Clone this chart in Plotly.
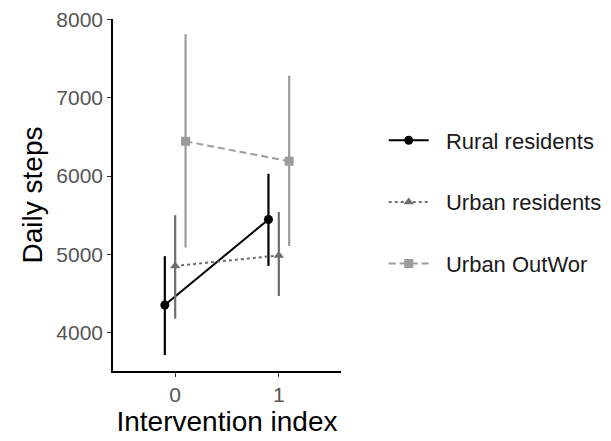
import plotly.graph_objects as go

x_index = [0, 1]
dodge = [-0.1, 0.0, 0.1]
series_names = ["Rural residents", "Urban residents", "Urban OutWor"]
means = [[4350, 5445], [4850, 4985], [6445, 6190]]
upper = [[4975, 6030], [5500, 5540], [7815, 7285]]
lower = [[3710, 4850], [4175, 4465], [5085, 5105]]
y_ticks = [4000, 5000, 6000, 7000, 8000]
x_ticks = [0, 1]

colors = ["#000000", "#6e6e6e", "#9c9c9c"]
symbols = ["circle", "triangle-up", "square"]
dashes = ["solid", "3px,3px", "7px,4px"]

fig = go.Figure()
for i, name in enumerate(series_names):
    xs = [x + dodge[i] for x in x_index]
    fig.add_trace(go.Scatter(
        x=xs, y=means[i], name="\u00a0\u00a0" + name, mode="lines+markers",
        line=dict(color=colors[i], width=2, dash=dashes[i]),
        marker=dict(color=colors[i], symbol=symbols[i], size=9),
        error_y=dict(type="data", symmetric=False,
                     array=[u - m for u, m in zip(upper[i], means[i])],
                     arrayminus=[m - l for m, l in zip(means[i], lower[i])],
                     width=0, thickness=2.2, color=colors[i]),
        legendgroup=name,
    ))

fig.update_layout(
    width=611, height=441,
    margin=dict(l=113, r=270, t=19, b=70, autoexpand=False),
    paper_bgcolor="white", plot_bgcolor="white",
    font=dict(family="Liberation Sans, Arial, sans-serif"),
    legend=dict(xref="container", yref="container", x=0.628, xanchor="left",
                y=0.542, yanchor="middle",
                font=dict(size=22, color="#1a1a1a"),
                tracegroupgap=30, itemwidth=40, bgcolor="rgba(0,0,0,0)"),
    xaxis=dict(range=[-0.6, 1.6], tickvals=x_ticks, ticktext=[str(t) for t in x_ticks],
               showgrid=False, zeroline=False, showline=True, linecolor="black", linewidth=1.5,
               ticks="outside", ticklen=4, tickcolor="#333333",
               tickfont=dict(size=21, color="#555555"),
               title=dict(text="Intervention index", font=dict(size=28, color="black"), standoff=4)),
    yaxis=dict(range=[3506, 8010], tickvals=y_ticks, showgrid=False, zeroline=False,
               showline=True, linecolor="black", linewidth=1.5,
               ticks="outside", ticklen=4, tickcolor="#333333",
               tickfont=dict(size=21, color="#555555"),
               title=dict(text="Daily steps", font=dict(size=28, color="black"), standoff=6)),
)

fig.write_html("out.html")
